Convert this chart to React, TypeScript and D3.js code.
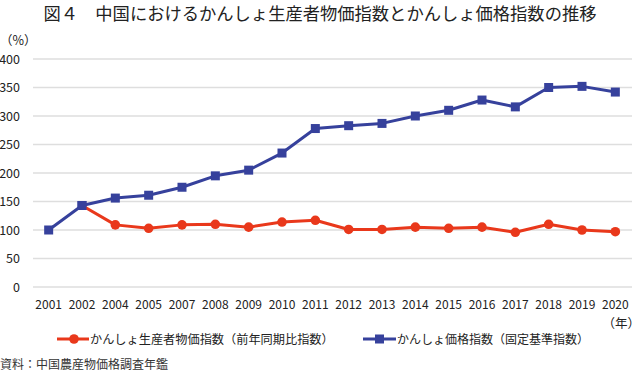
import React from 'react';
import * as d3 from 'd3';

const years = ['2001', '2002', '2004', '2005', '2007', '2008', '2009', '2010', '2011', '2012', '2013', '2014', '2015', '2016', '2017', '2018', '2019', '2020'];
// かんしょ生産者物価指数（前年同期比指数） - no value for 2001
const producerIndex: (number | null)[] = [null, 143, 109, 103, 109, 110, 105, 114, 117, 101, 101, 105, 103, 105, 96, 110, 100, 97];
// かんしょ価格指数（固定基準指数）
const priceIndex: number[] = [100, 143, 156, 161, 175, 195, 205, 235, 278, 283, 287, 300, 310, 328, 316, 350, 352, 342];
const yTicks = [0, 50, 100, 150, 200, 250, 300, 350, 400];

const title = '図４　中国におけるかんしょ生産者物価指数とかんしょ価格指数の推移';
const legendLabels = ['かんしょ生産者物価指数（前年同期比指数）', 'かんしょ価格指数（固定基準指数）'];
const source = '資料：中国農産物価格調査年鑑';

const RED = '#e9381b';
const BLUE = '#36419c';
const FONT = '"Noto Sans CJK JP", "Noto Sans", sans-serif';

export default function App() {
  const width = 640;
  const height = 371;

  const x = d3.scaleBand<string>().domain(years).range([32, 632]).padding(0);
  const cx = (yr: string) => (x(yr) || 0) + x.bandwidth() / 2;
  const y = d3.scaleLinear().domain([0, 400]).range([287, 59]);

  const redPts = years
    .map((yr, i) => ({ yr, v: producerIndex[i] }))
    .filter((d) => d.v !== null) as { yr: string; v: number }[];
  const bluePts = years.map((yr, i) => ({ yr, v: priceIndex[i] }));

  const line = d3
    .line<{ yr: string; v: number }>()
    .x((d) => cx(d.yr))
    .y((d) => y(d.v));

  return (
    <svg
      width={width}
      height={height}
      style={{ position: 'absolute', left: 0, top: 0, background: '#fff', fontFamily: FONT }}
    >
      <text x={320} y={20} textAnchor="middle" fontSize={17.3} fill="#222">
        {title}
      </text>
      <text x={0} y={45} fontSize={12.5} fill="#222">
        （%）
      </text>

      {/* gridlines + y labels */}
      {yTicks.map((t) => (
        <g key={t}>
          <line x1={33} x2={632} y1={y(t)} y2={y(t)} stroke="#dedede" strokeWidth={1.5} />
          <text x={20} y={y(t) + 4.5} textAnchor="end" fontSize={12.5} fill="#222">
            {t}
          </text>
        </g>
      ))}

      {/* x labels */}
      {years.map((yr) => (
        <text key={yr} x={cx(yr)} y={309} textAnchor="middle" fontSize={12} fill="#222">
          {yr}
        </text>
      ))}
      <text x={640} y={328} textAnchor="end" fontSize={12.5} fill="#222">
        （年）
      </text>

      {/* blue series */}
      <path d={line(bluePts) || ''} fill="none" stroke={BLUE} strokeWidth={3} strokeLinejoin="round" />
      {bluePts.map((d) => (
        <rect key={d.yr} x={cx(d.yr) - 4.5} y={y(d.v) - 4.5} width={9} height={9} fill={BLUE} />
      ))}

      {/* red series */}
      <path d={line(redPts) || ''} fill="none" stroke={RED} strokeWidth={3} strokeLinejoin="round" />
      {redPts.slice(1).map((d) => (
        <circle key={d.yr} cx={cx(d.yr)} cy={y(d.v)} r={4.8} fill={RED} />
      ))}
      {/* 2002 shared point: blue square on top */}
      <rect x={cx('2002') - 4.5} y={y(priceIndex[1]) - 4.5} width={9} height={9} fill={BLUE} />

      {/* legend */}
      <line x1={57} x2={89} y1={339} y2={339} stroke={RED} strokeWidth={3} />
      <circle cx={74} cy={339} r={4.8} fill={RED} />
      <text x={90} y={343.5} fontSize={12.2} fill="#222">
        {legendLabels[0]}
      </text>
      <line x1={363} x2={396} y1={339} y2={339} stroke={BLUE} strokeWidth={3} />
      <rect x={375} y={334.5} width={9} height={9} fill={BLUE} />
      <text x={397} y={343.5} fontSize={12} fill="#222">
        {legendLabels[1]}
      </text>

      <text x={0} y={369} fontSize={12} fill="#333">
        {source}
      </text>
    </svg>
  );
}
